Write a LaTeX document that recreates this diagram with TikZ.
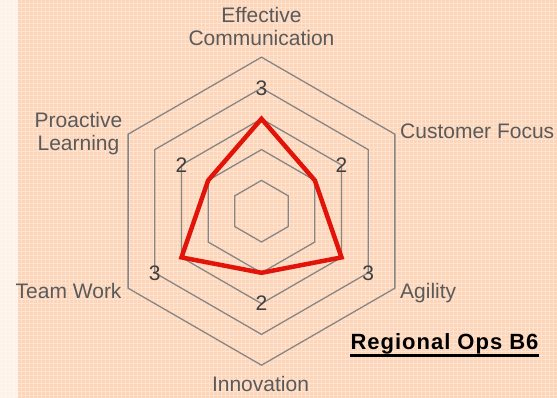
\documentclass[tikz,border=0pt]{standalone}
\usepackage{fontspec}
\setmainfont{Liberation Sans}
\usepackage{xcolor}
\definecolor{peach}{RGB}{252,213,184}
\definecolor{paleleft}{RGB}{254,241,232}
\definecolor{ringgray}{RGB}{134,134,134}
\definecolor{labelgray}{RGB}{90,90,90}
\definecolor{valgray}{RGB}{64,64,64}
\definecolor{plotred}{RGB}{226,20,10}
\newcommand{\lvl}{30.8}

\begin{document}
\begin{tikzpicture}[x=1pt,y=1pt,
	axislabel/.style={text=labelgray, inner sep=0pt, font=\fontsize{21}{23.5}\selectfont},
	vallabel/.style={text=valgray, inner sep=0pt, font=\fontsize{21}{23.5}\selectfont},
	hexring/.style={draw=ringgray, line width=1.3pt}]
					\useasboundingbox (-261.5,-186.8) rectangle (295.5,211.2);
					%% ========================================================
					\begin{scope}
						\fill[peach] (-261.5,-186.8) rectangle (295.5,211.2);
						\fill[paleleft] (-261.5,-186.8) rectangle (-243.5,211.2);
						\draw[white, opacity=0.35, line width=1pt, step=4pt] (-261.5,-186.8) grid (295.5,211.2);
					\end{scope}
					%% ========================================================
					\begin{scope}
						\foreach \r in {1,...,5}
							\draw[hexring] (90:\r*\lvl) -- (30:\r*\lvl) -- (-30:\r*\lvl) -- (-90:\r*\lvl) -- (-150:\r*\lvl) -- (150:\r*\lvl) -- cycle;

						\foreach \ang/\val [count=\i] in {90/3, 30/2, -30/3, -90/2, -150/3, 150/2} {
							\coordinate (p\i) at (\ang:\val*\lvl);
							\node[vallabel] (v\i) at (\ang:{(\val+1)*\lvl}) {\val};
						}
						\draw[plotred, line width=4.5pt, line join=miter] (p1) -- (p2) -- (p3) -- (p4) -- (p5) -- (p6) -- cycle;
					\end{scope}
					%% ========================================================
					\begin{scope}
						\node[axislabel, anchor=base, align=center] (comm) at (0,165.5) {Effective\\Communication};
						\node[axislabel, anchor=base west] (cust) at (138.5,72.9) {Customer Focus};
						\node[axislabel, anchor=base west] (agil) at (138.5,-87.6) {Agility};
						\node[axislabel, anchor=base] (innov) at (-1,-180.5) {Innovation};
						\node[axislabel, anchor=base east] (team) at (-139.8,-87.1) {Team Work};
						\node[axislabel, anchor=base, align=center] (learn) at (-183,60.5) {Proactive\\Learning};

						\node[inner sep=0pt, anchor=base, font=\fontsize{22}{24}\selectfont\bfseries\addfontfeature{LetterSpace=4.5}] (title) at (183,-138.8) {Regional Ops B6};
						\draw[line width=2.2pt] ([yshift=-5.5pt]title.base west) -- ([yshift=-5.5pt]title.base east);
					\end{scope}
					%% ========================================================
				\end{tikzpicture}
\end{document}
